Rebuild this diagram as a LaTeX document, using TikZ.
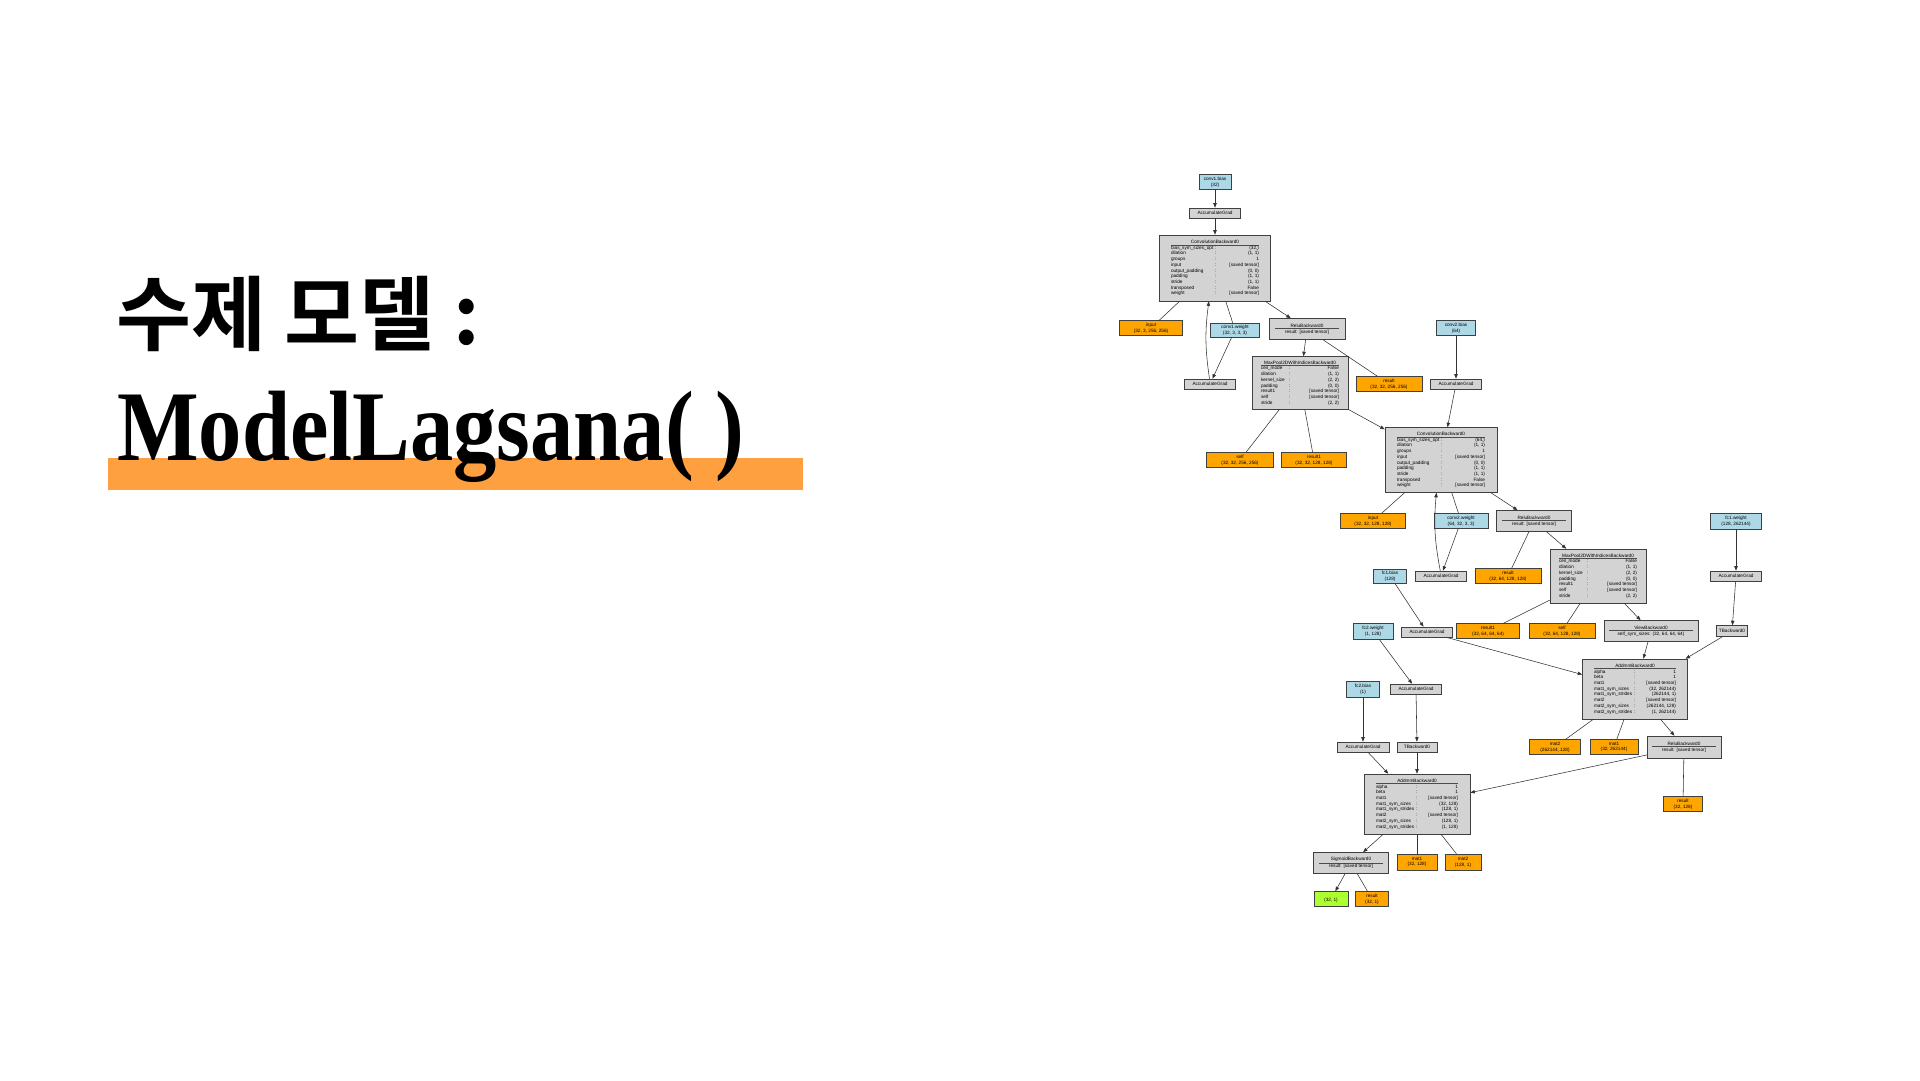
\documentclass[tikz,border=0pt]{standalone}
\usepackage{fontspec}
\usetikzlibrary{arrows.meta}
\newfontfamily\krfont{Noto Sans CJK KR}[BoldFont={Noto Sans CJK KR Bold}]
\newfontfamily\serifhead{Liberation Serif}
\newfontfamily\graphfont{Liberation Sans}

\definecolor{fngray}{HTML}{D3D3D3}
\definecolor{varblue}{HTML}{ADD8E6}
\definecolor{savedorange}{HTML}{FFA500}
\definecolor{outgreen}{HTML}{ADFF2F}
\definecolor{barorange}{HTML}{FFA040}

% small text of the autograd graph
\newcommand\gfont{\graphfont\fontsize{4.7}{5.7}\selectfont}
% title line of a backward function, followed by its separator rule
\newcommand\fnhead[1]{\hbox to\linewidth{\hfil#1\hfil}\kern0.9pt{\color{black!70}\hrule height 0.25pt}\kern1.1pt}
% one attribute row: key column of width #1, then value flushed right
\newcommand\kv[3]{\hbox to\linewidth{\makebox[#1][l]{#2}:\hfill #3}}

\tikzset{
  box/.style={draw=black!75, line width=0.55pt, inner sep=0pt, align=center, font=\gfont},
  fn/.style={box, fill=fngray},
  param/.style={box, fill=varblue},
  saved/.style={box, fill=savedorange},
  outv/.style={box, fill=outgreen},
  sz/.style 2 args={minimum width=#1, minimum height=#2},
  ln/.style={draw=black!80, line width=0.55pt},
  arr/.style={ln, -{Triangle[length=4.5pt,width=3.4pt]}},
}

\begin{document}
\begin{tikzpicture}[x=1pt, y=-1pt]
\useasboundingbox (0,0) rectangle (1920,1080);
\fill[white] (0,0) rectangle (1920,1080);

% ---------- heading ----------
\fill[barorange] (108,458) rectangle (803,490);
\node[anchor=base west, inner sep=0] (ko) at (116,344)
  {\krfont\bfseries\fontsize{81.5}{96}\selectfont 수제 모델 :};
\node[anchor=base west, inner sep=0] (en) at (117,460)
  {\scalebox{0.865}[1]{\serifhead\bfseries\fontsize{100}{110}\selectfont ModelLagsana( )}};

% ---------- first convolution block ----------
\node[param, sz={32}{15}] (c1b) at (1215,182) {conv1.bias\\(32)};
\node[fn, sz={51}{10}] (ag1) at (1215,213) {AccumulateGrad};
\node[fn, sz={111}{66}] (conv1) at (1215,268) {\parbox{88pt}{%
  \fnhead{ConvolutionBackward0}%
  \kv{44pt}{bias\_sym\_sizes\_opt}{(32,)}%
  \kv{44pt}{dilation}{(1, 1)}%
  \kv{44pt}{groups}{1}%
  \kv{44pt}{input}{[saved tensor]}%
  \kv{44pt}{output\_padding}{(0, 0)}%
  \kv{44pt}{padding}{(1, 1)}%
  \kv{44pt}{stride}{(1, 1)}%
  \kv{44pt}{transposed}{False}%
  \kv{44pt}{weight}{[saved tensor]}}};
\node[saved, sz={63}{15}] (in1) at (1151,328) {input\\(32, 3, 256, 256)};
\node[param, sz={49}{14}] (c1w) at (1235,330) {conv1.weight\\(32, 3, 3, 3)};
\node[fn, sz={51}{10}] (agw1) at (1210,384) {AccumulateGrad};
\node[fn, sz={76}{21}] (relu1) at (1307,329) {\parbox{64pt}{%
  \fnhead{ReluBackward0}\hbox to\linewidth{\hfil result: [saved tensor]\hfil}}};
\node[saved, sz={66}{15}] (r1res) at (1389,384) {result\\(32, 32, 256, 256)};
\node[fn, sz={96}{53}] (mp1) at (1300,383) {\parbox{78pt}{%
  \fnhead{MaxPool2DWithIndicesBackward0}%
  \kv{28pt}{ceil\_mode}{False}%
  \kv{28pt}{dilation}{(1, 1)}%
  \kv{28pt}{kernel\_size}{(2, 2)}%
  \kv{28pt}{padding}{(0, 0)}%
  \kv{28pt}{result1}{[saved tensor]}%
  \kv{28pt}{self}{[saved tensor]}%
  \kv{28pt}{stride}{(2, 2)}}};
\node[saved, sz={67}{15}] (mp1self) at (1240,460) {self\\(32, 32, 256, 256)};
\node[saved, sz={65}{15}] (mp1r1) at (1314,460) {result1\\(32, 32, 128, 128)};

% ---------- second convolution block ----------
\node[param, sz={39}{15}] (c2b) at (1456,328) {conv2.bias\\(64)};
\node[fn, sz={51}{10}] (agb2) at (1456,384) {AccumulateGrad};
\node[fn, sz={112}{65}] (conv2) at (1441,460) {\parbox{88pt}{%
  \fnhead{ConvolutionBackward0}%
  \kv{44pt}{bias\_sym\_sizes\_opt}{(64,)}%
  \kv{44pt}{dilation}{(1, 1)}%
  \kv{44pt}{groups}{1}%
  \kv{44pt}{input}{[saved tensor]}%
  \kv{44pt}{output\_padding}{(0, 0)}%
  \kv{44pt}{padding}{(1, 1)}%
  \kv{44pt}{stride}{(1, 1)}%
  \kv{44pt}{transposed}{False}%
  \kv{44pt}{weight}{[saved tensor]}}};
\node[saved, sz={65}{15}] (in2) at (1373,521) {input\\(32, 32, 128, 128)};
\node[param, sz={54}{15}] (c2w) at (1461,521) {conv2.weight\\(64, 32, 3, 3)};
\node[fn, sz={51}{10}] (agw2) at (1441,576) {AccumulateGrad};
\node[fn, sz={75}{21}] (relu2) at (1534,521) {\parbox{64pt}{%
  \fnhead{ReluBackward0}\hbox to\linewidth{\hfil result: [saved tensor]\hfil}}};
\node[saved, sz={66}{15}] (r2res) at (1508,576) {result\\(32, 64, 128, 128)};
\node[fn, sz={96}{54}] (mp2) at (1598,576) {\parbox{78pt}{%
  \fnhead{MaxPool2DWithIndicesBackward0}%
  \kv{28pt}{ceil\_mode}{False}%
  \kv{28pt}{dilation}{(1, 1)}%
  \kv{28pt}{kernel\_size}{(2, 2)}%
  \kv{28pt}{padding}{(0, 0)}%
  \kv{28pt}{result1}{[saved tensor]}%
  \kv{28pt}{self}{[saved tensor]}%
  \kv{28pt}{stride}{(2, 2)}}};
\node[saved, sz={63}{15}] (mp2r1) at (1488,631) {result1\\(32, 64, 64, 64)};
\node[saved, sz={66}{15}] (mp2self) at (1562,631) {self\\(32, 64, 128, 128)};
\node[fn, sz={94}{21}] (view) at (1651,631) {\parbox{84pt}{%
  \fnhead{ViewBackward0}\hbox to\linewidth{\hfil self\_sym\_sizes: (32, 64, 64, 64)\hfil}}};

% ---------- first linear layer ----------
\node[param, sz={51}{16}] (f1w) at (1736,521) {fc1.weight\\(128, 262144)};
\node[fn, sz={51}{10}] (agf1w) at (1736,576) {AccumulateGrad};
\node[fn, sz={31}{11}] (tb1) at (1732,631) {TBackward0};
\node[param, sz={33}{14}] (f1b) at (1390,576) {fc1.bias\\(128)};
\node[fn, sz={51}{10}] (agf1b) at (1427,632) {AccumulateGrad};
\node[fn, sz={105}{60}] (addmm1) at (1635,689) {\parbox{82pt}{%
  \fnhead{AddmmBackward0}%
  \kv{40pt}{alpha}{1}%
  \kv{40pt}{beta}{1}%
  \kv{40pt}{mat1}{[saved tensor]}%
  \kv{40pt}{mat1\_sym\_sizes}{(32, 262144)}%
  \kv{40pt}{mat1\_sym\_strides}{(262144, 1)}%
  \kv{40pt}{mat2}{[saved tensor]}%
  \kv{40pt}{mat2\_sym\_sizes}{(262144, 128)}%
  \kv{40pt}{mat2\_sym\_strides}{(1, 262144)}}};
\node[saved, sz={51}{15}] (mat2a) at (1555,747) {mat2\\(262144, 128)};
\node[saved, sz={48}{15}] (mat1a) at (1614,747) {mat1\\(32, 262144)};
\node[fn, sz={74}{22}] (relu3) at (1684,747) {\parbox{64pt}{%
  \fnhead{ReluBackward0}\hbox to\linewidth{\hfil result: [saved tensor]\hfil}}};
\node[saved, sz={39}{15}] (r3res) at (1683,804) {result\\(32, 128)};

% ---------- second linear layer and output ----------
\node[param, sz={40}{16}] (f2w) at (1373,631) {fc2.weight\\(1, 128)};
\node[fn, sz={51}{10}] (agf2w) at (1416,689) {AccumulateGrad};
\node[param, sz={33}{16}] (f2b) at (1363,689) {fc2.bias\\(1)};
\node[fn, sz={52}{10}] (agf2b) at (1363,747) {AccumulateGrad};
\node[fn, sz={40}{10}] (tb2) at (1417,747) {TBackward0};
\node[fn, sz={106}{60}] (addmm2) at (1417,804) {\parbox{82pt}{%
  \fnhead{AddmmBackward0}%
  \kv{40pt}{alpha}{1}%
  \kv{40pt}{beta}{1}%
  \kv{40pt}{mat1}{[saved tensor]}%
  \kv{40pt}{mat1\_sym\_sizes}{(32, 128)}%
  \kv{40pt}{mat1\_sym\_strides}{(128, 1)}%
  \kv{40pt}{mat2}{[saved tensor]}%
  \kv{40pt}{mat2\_sym\_sizes}{(128, 1)}%
  \kv{40pt}{mat2\_sym\_strides}{(1, 128)}}};
\node[fn, sz={75}{21}] (sig) at (1351,863) {\parbox{64pt}{%
  \fnhead{SigmoidBackward0}\hbox to\linewidth{\hfil result: [saved tensor]\hfil}}};
\node[saved, sz={40}{16}] (mat1b) at (1417,862) {mat1\\(32, 128)};
\node[saved, sz={36}{16}] (mat2b) at (1463,862) {mat2\\(128, 1)};
\node[outv, sz={34}{15}] (out) at (1331,899) {\mbox{}\\(32, 1)};
\node[saved, sz={33}{15}] (sres) at (1372,899) {result\\(32, 1)};

% ---------- connectors ----------
\draw[arr] (c1b) -- (ag1);
\draw[arr] (ag1) -- (conv1);
\draw[ln] (conv1) -- (in1);
\draw[ln] (conv1) -- (c1w);
\draw[arr] (c1w) -- (agw1);
\draw[arr] (agw1) to[bend left=8] (conv1);
\draw[arr] (conv1) -- (relu1);
\draw[ln] (relu1) -- (r1res);
\draw[arr] (relu1) -- (mp1);
\draw[ln] (mp1) -- (mp1self);
\draw[ln] (mp1) -- (mp1r1);
\draw[arr] (mp1) -- (conv2);
\draw[arr] (c2b) -- (agb2);
\draw[arr] (agb2) -- (conv2);
\draw[ln] (conv2) -- (in2);
\draw[ln] (conv2) -- (c2w);
\draw[arr] (c2w) -- (agw2);
\draw[arr] (agw2) to[bend left=8] (conv2);
\draw[arr] (conv2) -- (relu2);
\draw[ln] (relu2) -- (r2res);
\draw[arr] (relu2) -- (mp2);
\draw[ln] (mp2) -- (mp2r1);
\draw[ln] (mp2) -- (mp2self);
\draw[arr] (mp2) -- (view);
\draw[arr] (view) -- (addmm1);
\draw[arr] (f1w) -- (agf1w);
\draw[arr] (agf1w) -- (tb1);
\draw[arr] (tb1) -- (addmm1);
\draw[arr] (f1b) -- (agf1b);
\draw[arr] (agf1b) -- (addmm1);
\draw[ln] (addmm1) -- (mat2a);
\draw[ln] (addmm1) -- (mat1a);
\draw[arr] (addmm1) -- (relu3);
\draw[ln] (relu3) -- (r3res);
\draw[arr] (relu3) -- (addmm2);
\draw[arr] (f2w) -- (agf2w);
\draw[arr] (agf2w) -- (tb2);
\draw[arr] (f2b) -- (agf2b);
\draw[arr] (agf2b) -- (addmm2);
\draw[arr] (tb2) -- (addmm2);
\draw[ln] (addmm2) -- (mat1b);
\draw[ln] (addmm2) -- (mat2b);
\draw[arr] (addmm2) -- (sig);
\draw[arr] (sig) -- (out);
\draw[ln] (sig) -- (sres);
\end{tikzpicture}
\end{document}
